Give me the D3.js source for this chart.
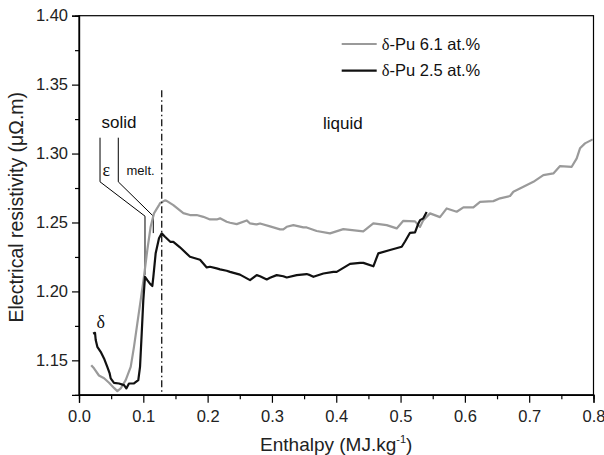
<!DOCTYPE html>
<html>
<head>
<meta charset="utf-8">
<script src="https://cdn.jsdelivr.net/npm/d3@7"></script>
<style>
body{margin:0;background:#fff;}
svg{display:block;font-family:"Liberation Sans",Arial,sans-serif;}
</style>
</head>
<body>
<svg id="chart" width="604" height="455"></svg>
<script>
// ---- data ----
const xTicks = [0.0,0.1,0.2,0.3,0.4,0.5,0.6,0.7,0.8];
const yTicks = [1.15,1.20,1.25,1.30,1.35,1.40];
const seriesNames = ["δ-Pu 6.1 at.%","δ-Pu 2.5 at.%"];

const pu61X = [0.019,0.0233,0.031,0.039,0.0467,0.0544,0.0596,0.0648,0.0726,0.0804,0.0855,0.0907,0.0959,0.101,0.1062,0.1114,0.1166,0.1244,0.126,0.1337,0.1363,0.1467,0.1622,0.1726,0.183,0.1933,0.2037,0.2141,0.2193,0.2296,0.2349,0.2452,0.2608,0.266,0.2763,0.2815,0.297,0.3126,0.3177,0.323,0.3333,0.3488,0.354,0.3696,0.3903,0.411,0.442,0.4576,0.4784,0.494,0.5043,0.5225,0.5303,0.5354,0.5458,0.5613,0.5718,0.5873,0.5977,0.6132,0.6236,0.6443,0.6547,0.6702,0.6754,0.691,0.7065,0.722,0.7376,0.748,0.7661,0.7739,0.779,0.7868,0.7988];
const pu61Y = [1.1465,1.1442,1.139,1.137,1.1337,1.130,1.1277,1.1296,1.1356,1.1453,1.1598,1.1768,1.1937,1.2106,1.230,1.2469,1.2566,1.2626,1.2639,1.2660,1.2657,1.2626,1.2568,1.2554,1.2554,1.2541,1.2522,1.2522,1.253,1.2505,1.2498,1.2488,1.2515,1.2493,1.2486,1.2493,1.2472,1.245,1.245,1.2469,1.2481,1.2464,1.2464,1.2438,1.2421,1.2452,1.2436,1.2493,1.2481,1.2457,1.2512,1.2508,1.2468,1.2517,1.2566,1.2539,1.2602,1.2578,1.261,1.261,1.265,1.2655,1.2675,1.2692,1.2723,1.2759,1.2795,1.2844,1.2856,1.2909,1.2904,1.2965,1.3038,1.3074,1.3103];

const pu25X = [0.0218,0.0249,0.026,0.0285,0.0337,0.0389,0.044,0.0477,0.0493,0.0544,0.0622,0.07,0.0736,0.0777,0.0855,0.0922,0.0949,0.0975,0.1,0.1026,0.1062,0.11,0.114,0.1156,0.1192,0.1244,0.1286,0.1337,0.1419,0.1467,0.157,0.1726,0.1882,0.1986,0.2037,0.2141,0.2193,0.2296,0.2348,0.2503,0.2659,0.2763,0.2815,0.2919,0.297,0.3074,0.3177,0.323,0.3385,0.354,0.3593,0.3645,0.38,0.3955,0.4007,0.4214,0.437,0.4422,0.4577,0.4654,0.4836,0.5018,0.5069,0.5147,0.5225,0.5277,0.5303,0.5354,0.5406];
const pu25Y = [1.1695,1.1700,1.1647,1.1598,1.1562,1.1514,1.1453,1.1405,1.1369,1.1337,1.1332,1.132,1.1296,1.1332,1.1332,1.1356,1.1453,1.1695,1.1937,1.2106,1.2082,1.2058,1.2039,1.2106,1.2276,1.2385,1.2421,1.2396,1.236,1.236,1.2320,1.2251,1.2230,1.2174,1.2179,1.2167,1.216,1.215,1.2142,1.2122,1.2082,1.2118,1.211,1.2087,1.2099,1.2118,1.211,1.2101,1.2118,1.2126,1.2118,1.2106,1.213,1.2142,1.2142,1.2200,1.2207,1.2207,1.2182,1.2276,1.23,1.2324,1.2362,1.2425,1.2428,1.2493,1.2517,1.253,1.2576];

// annotation anchors (data coords)
const epsLine = [[0.0327,1.3115],[0.0327,1.2795],[0.1026,1.2546],[0.1026,1.212]];
const meltLine = [[0.0611,1.3115],[0.0611,1.2795],[0.1155,1.2546],[0.1155,1.2423]];
const meltingX = 0.1286;
const meltingTop = 1.346;

// ---- layout ----
const W = 604, H = 455;
const m = {left:79, top:15.7, right:10.5, bottom:60.2};
const svg = d3.select("#chart");
const x = d3.scaleLinear().domain([0,0.8]).range([m.left, W-m.right]);
const y = d3.scaleLinear().domain([1.125,1.40]).range([H-m.bottom, m.top]);

// frame
svg.append("rect").attr("x",m.left).attr("y",m.top)
  .attr("width",W-m.left-m.right).attr("height",H-m.top-m.bottom)
  .attr("fill","none").attr("stroke","#000").attr("stroke-width",1.2);

// axes
const fs = "16.5px";
const gx = svg.append("g").attr("transform",`translate(0,${H-m.bottom})`)
  .call(d3.axisBottom(x).tickValues(xTicks).tickFormat(d3.format(".1f")).tickSize(8).tickPadding(7));
const gxm = svg.append("g").attr("transform",`translate(0,${H-m.bottom})`)
  .call(d3.axisBottom(x).tickValues(d3.range(0.05,0.8,0.1)).tickFormat("").tickSize(4.5));
const gy = svg.append("g").attr("transform",`translate(${m.left},0)`)
  .call(d3.axisLeft(y).tickValues(yTicks).tickFormat(d3.format(".2f")).tickSize(7).tickPadding(4));
const gym = svg.append("g").attr("transform",`translate(${m.left},0)`)
  .call(d3.axisLeft(y).tickValues([1.175,1.225,1.275,1.325,1.375]).tickFormat("").tickSize(4));
[gx,gxm,gy,gym].forEach(g=>{
  g.select(".domain").attr("stroke","#000").attr("stroke-width",1.2);
  g.selectAll(".tick line").attr("stroke","#000").attr("stroke-width",1.2);
  g.selectAll(".tick text").attr("fill","#222").style("font-size",fs)
    .style("font-family",'"Liberation Sans",Arial,sans-serif');
});

// axis titles
svg.append("text").attr("transform",`translate(22.5,${(m.top+H-m.bottom)/2+2}) rotate(-90)`)
  .attr("text-anchor","middle").style("font-size","19.5px").attr("fill","#222")
  .text("Electrical resistivity (μΩ.m)");
const xt = svg.append("text").attr("x",(m.left+W-m.right)/2).attr("y",451)
  .attr("text-anchor","middle").style("font-size","19px").attr("fill","#222");
xt.append("tspan").text("Enthalpy (MJ.kg");
xt.append("tspan").attr("dy","-8").style("font-size","11px").text("-1");
xt.append("tspan").attr("dy","8").text(")");

// curves
const line = d3.line().x(d=>x(d[0])).y(d=>y(d[1]));
const d61 = pu61X.map((v,i)=>[v,pu61Y[i]]);
const d25 = pu25X.map((v,i)=>[v,pu25Y[i]]);

// annotation lines
const thin = d3.line().x(d=>x(d[0])).y(d=>y(d[1]));
svg.append("path").attr("d",thin(epsLine)).attr("fill","none").attr("stroke","#000").attr("stroke-width",1);
svg.append("path").attr("d",thin(meltLine)).attr("fill","none").attr("stroke","#000").attr("stroke-width",1);

svg.append("path").attr("d",line(d61)).attr("fill","none").attr("stroke","#9a9a9a")
  .attr("stroke-width",2.2).attr("stroke-linejoin","round");
svg.append("path").attr("d",line(d25)).attr("fill","none").attr("stroke","#111")
  .attr("stroke-width",2.2).attr("stroke-linejoin","round");

// melting dash-dot line
svg.append("line").attr("x1",x(meltingX)).attr("x2",x(meltingX))
  .attr("y1",y(meltingTop)).attr("y2",y(1.125))
  .attr("stroke","#222").attr("stroke-width",1.4).attr("stroke-dasharray","7,3,1.5,3");

// labels
svg.append("text").attr("x",101.5).attr("y",128.3).style("font-size","17px").attr("fill","#111").text("solid");
svg.append("text").attr("x",323).attr("y",129).style("font-size","17px").attr("fill","#111").text("liquid");
svg.append("text").attr("x",102.5).attr("y",176).style("font-size","18px")
  .style("font-family",'"Liberation Serif","DejaVu Serif",serif').attr("fill","#111").text("ε");
svg.append("text").attr("x",126.5).attr("y",175).style("font-size","13px").attr("fill","#111").text("melt.");
svg.append("text").attr("x",96.5).attr("y",328).style("font-size","18px")
  .style("font-family",'"Liberation Serif","DejaVu Serif",serif').attr("fill","#111").text("δ");

// legend
const legY = [44,70.7];
const legC = ["#9a9a9a","#111"];
seriesNames.forEach((n,i)=>{
  svg.append("line").attr("x1",341.7).attr("x2",376.7).attr("y1",legY[i]).attr("y2",legY[i])
    .attr("stroke",legC[i]).attr("stroke-width",2.2);
  const t = svg.append("text").attr("x",381.7).attr("y",legY[i]).attr("dy","0.35em")
    .style("font-size","16.5px").attr("fill","#111");
  t.append("tspan").style("font-family",'"Liberation Serif","DejaVu Serif",serif').text(n.charAt(0));
  t.append("tspan").text(n.slice(1));
});
</script>
</body>
</html>
